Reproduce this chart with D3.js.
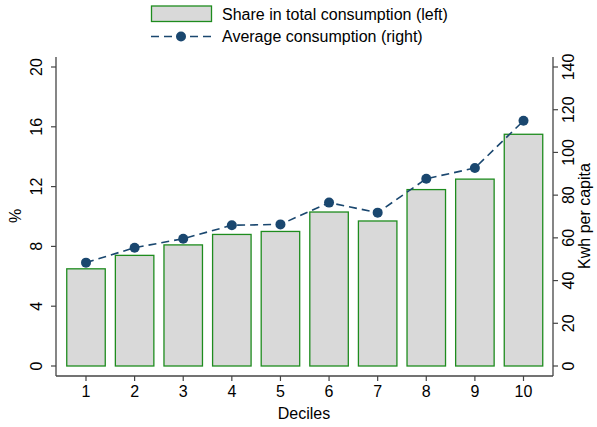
<!DOCTYPE html>
<html><head><meta charset="utf-8">
<script src="https://cdn.jsdelivr.net/npm/d3@7"></script>
<style>body{margin:0;background:#fff}text{font-family:"Liberation Sans",Arial,sans-serif;fill:#000}</style>
</head><body>
<svg id="c" width="597" height="427"></svg>
<script>
const deciles = [1,2,3,4,5,6,7,8,9,10];
const shareValues = [6.5,7.4,8.1,8.8,9.0,10.3,9.7,11.8,12.5,15.5];
const avgValues = [48.4,55.4,59.6,65.9,66.3,76.5,71.8,87.7,92.7,114.8];
const leftTicks = [0,4,8,12,16,20];
const rightTicks = [0,20,40,60,80,100,120,140];

const svg = d3.select("#c");
const L = 56, R = 553, T = 57, B = 376;
const y0 = 366, yTop = 67;
const x = d3.scaleLinear().domain([1,10]).range([86,523.5]);
const yL = d3.scaleLinear().domain([0,20]).range([y0,yTop]);
const yR = d3.scaleLinear().domain([0,140]).range([y0,yTop]);
const bw = 38.5;
const axisCol = "#444";
const fs = "16px";

// bars
svg.selectAll("rect.bar").data(deciles).enter().append("rect")
  .attr("x", d => x(d) - bw/2).attr("width", bw)
  .attr("y", (d,i) => yL(shareValues[i])).attr("height", (d,i) => yL(0) - yL(shareValues[i]))
  .attr("fill", "#d9d9d9").attr("stroke", "#1e8c1e").attr("stroke-width", 1.3);

// line
const line = d3.line().x((d,i) => x(deciles[i])).y(d => yR(d));
svg.append("path").datum(avgValues).attr("d", line).attr("fill","none")
  .attr("stroke","#1a476f").attr("stroke-width",1.6).attr("stroke-dasharray","8,5");
svg.selectAll("circle.pt").data(avgValues).enter().append("circle")
  .attr("cx",(d,i)=>x(deciles[i])).attr("cy",d=>yR(d)).attr("r",5).attr("fill","#1a476f");

// axes lines
svg.append("line").attr("x1",L).attr("x2",L).attr("y1",T).attr("y2",B).attr("stroke",axisCol).attr("stroke-width",1.3);
svg.append("line").attr("x1",R).attr("x2",R).attr("y1",T).attr("y2",B).attr("stroke",axisCol).attr("stroke-width",1.3);
svg.append("line").attr("x1",L).attr("x2",R).attr("y1",B).attr("y2",B).attr("stroke",axisCol).attr("stroke-width",1.3);

// left ticks
leftTicks.forEach(t => {
  svg.append("line").attr("x1",L-5).attr("x2",L).attr("y1",yL(t)).attr("y2",yL(t)).attr("stroke",axisCol).attr("stroke-width",1.2);
  svg.append("text").attr("transform",`translate(42,${yL(t)}) rotate(-90)`).attr("text-anchor","middle")
    .style("font-size",fs).text(t);
});
rightTicks.forEach(t => {
  svg.append("line").attr("x1",R).attr("x2",R+5).attr("y1",yR(t)).attr("y2",yR(t)).attr("stroke",axisCol).attr("stroke-width",1.2);
  svg.append("text").attr("transform",`translate(563,${yR(t)}) rotate(-90)`).attr("text-anchor","middle")
    .attr("dominant-baseline","hanging").style("font-size",fs).text(t);
});
deciles.forEach(d => {
  svg.append("line").attr("x1",x(d)).attr("x2",x(d)).attr("y1",B).attr("y2",B+5).attr("stroke",axisCol).attr("stroke-width",1.2);
  svg.append("text").attr("x",x(d)).attr("y",397).attr("text-anchor","middle").style("font-size",fs).text(d);
});

// titles
svg.append("text").attr("x",304).attr("y",419).attr("text-anchor","middle").style("font-size",fs).text("Deciles");
svg.append("text").attr("transform","translate(21,216) rotate(-90)").attr("text-anchor","middle").style("font-size",fs).text("%");
svg.append("text").attr("transform","translate(579,216) rotate(-90)").attr("text-anchor","middle")
  .attr("dominant-baseline","hanging").style("font-size",fs).text("Kwh per capita");

// legend
svg.append("rect").attr("x",151.5).attr("y",6).attr("width",60).attr("height",15.5)
  .attr("fill","#d9d9d9").attr("stroke","#1e8c1e").attr("stroke-width",1.3);
svg.append("text").attr("x",222).attr("y",19.5).style("font-size",fs).text("Share in total consumption (left)");
svg.append("line").attr("x1",151).attr("x2",211).attr("y1",36.5).attr("y2",36.5)
  .attr("stroke","#1a476f").attr("stroke-width",1.6).attr("stroke-dasharray","8,5");
svg.append("circle").attr("cx",181).attr("cy",36.5).attr("r",5).attr("fill","#1a476f");
svg.append("text").attr("x",222).attr("y",42).style("font-size",fs).text("Average consumption (right)");
</script>
</body></html>
